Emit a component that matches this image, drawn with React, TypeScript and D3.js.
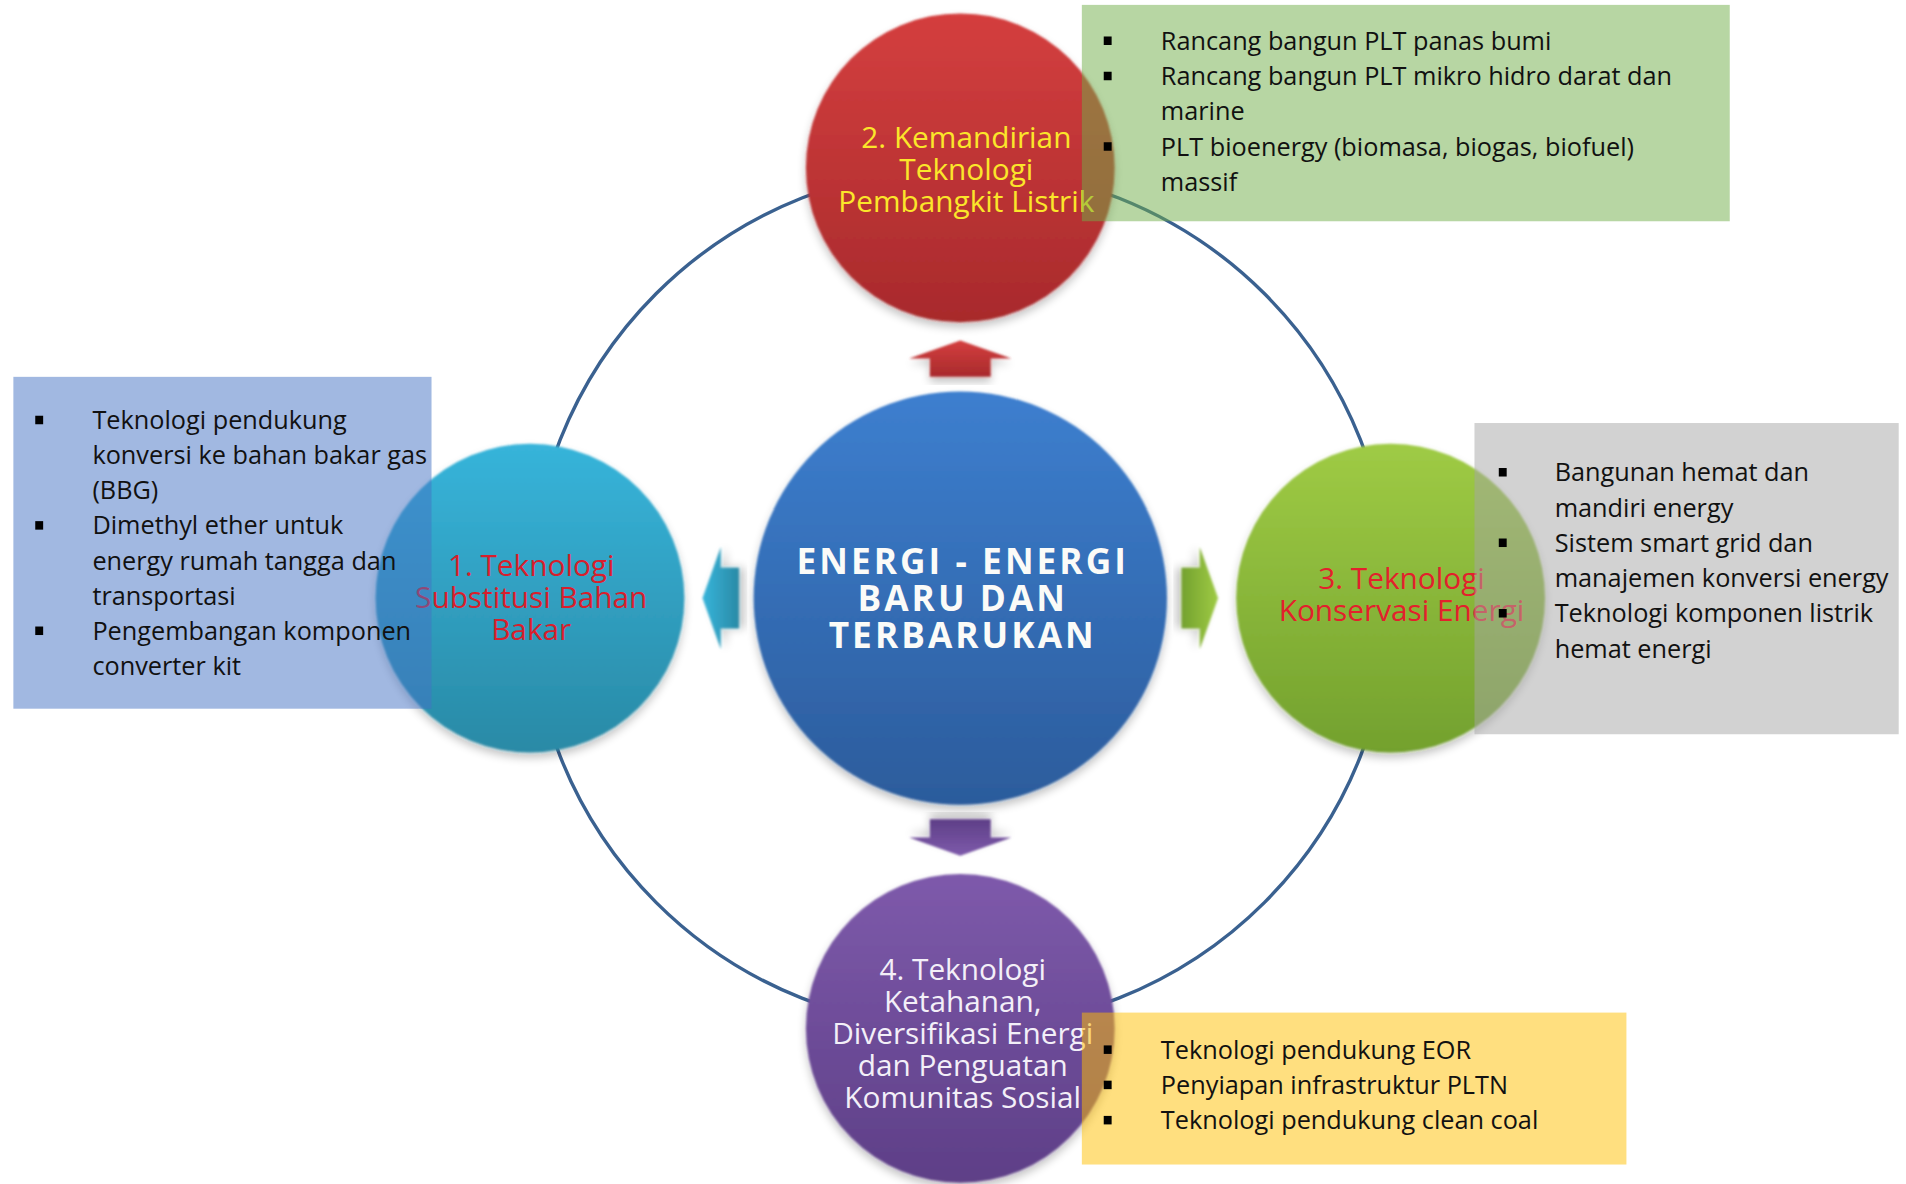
import React from "react";
import * as d3 from "d3";

// ---------- data ----------
const centerTitle = ["ENERGI - ENERGI", "BARU DAN", "TERBARUKAN"];

const nodeNames = ["pembangkit", "konservasi", "ketahanan", "substitusi"];
const nodeLabels = [
  ["2. Kemandirian", "Teknologi", "Pembangkit Listrik"],
  ["3. Teknologi", "Konservasi Energi"],
  ["4. Teknologi", "Ketahanan,", "Diversifikasi Energi", "dan Penguatan", "Komunitas Sosial"],
  ["1. Teknologi", "Substitusi Bahan", "Bakar"],
];
const nodeTop = ["#d43f3f", "#9fcb45", "#7e5aab", "#37b4da"];
const nodeBottom = ["#a82a2c", "#73a12e", "#5e3f87", "#2a8aa6"];
const labelColors = ["#fbe62a", "#e3202c", "#f3eff8", "#d81e2c"];

// bullet lists: each item = wrapped lines
const greenItems = [
  ["Rancang bangun PLT panas bumi"],
  ["Rancang bangun PLT mikro hidro darat dan", "marine"],
  ["PLT bioenergy (biomasa, biogas, biofuel)", "massif"],
];
const grayItems = [
  ["Bangunan hemat dan", "mandiri energy"],
  ["Sistem smart grid dan", "manajemen konversi energy"],
  ["Teknologi komponen listrik", "hemat energi"],
];
const yellowItems = [
  ["Teknologi pendukung EOR"],
  ["Penyiapan infrastruktur PLTN"],
  ["Teknologi pendukung clean coal"],
];
const blueItems = [
  ["Teknologi pendukung", "konversi ke bahan bakar gas", "(BBG)"],
  ["Dimethyl ether untuk", "energy rumah tangga dan", "transportasi"],
  ["Pengembangan komponen", "converter kit"],
];

// ---------- layout ----------
const VW = 1568;
const VH = 974;
const CX = 790;
const CY = 492;
const RING_R = 354;
const NODE_R = 127;
const CENTER_R = 170;

const angle = d3.scaleOrdinal<string, number>().domain(nodeNames).range([0, Math.PI / 2, Math.PI, (3 * Math.PI) / 2]);

const FONT_LABEL = "'Open Sans', sans-serif";
const FONT_BOX = "'Open Sans', sans-serif";

type Box = {
  items: string[][];
  x: number; y: number; w: number; h: number;
  color: string; bulletX: number; textX: number; firstBaseline: number; step: number;
};

const boxes: Box[] = [
  { items: greenItems, x: 890, y: 4, w: 533, h: 178, color: "#70AD47", bulletX: 911, textX: 955, firstBaseline: 41, step: 29 },
  { items: grayItems, x: 1213, y: 348, w: 349, h: 256, color: "#A5A5A5", bulletX: 1236, textX: 1279, firstBaseline: 396, step: 29 },
  { items: yellowItems, x: 890, y: 833, w: 448, h: 125, color: "#FFC000", bulletX: 911, textX: 955, firstBaseline: 871, step: 29 },
  { items: blueItems, x: 11, y: 310, w: 344, h: 273, color: "#4472C4", bulletX: 32, textX: 76, firstBaseline: 353, step: 28.9 },
];

// per-node label tweaks: [dx, dy of first line]
const labelShift: [number, number][] = [
  [5, 2],
  [9, -2],
  [2, 5],
  [1, 0],
];

function arrowPath(): string {
  // pointing up (towards -y), in local coordinates relative to centre
  const tip = 212, base = 197, end = 182, hw = 42, sw = 25;
  const pts: [number, number][] = [
    [0, -tip], [hw, -base], [sw, -base], [sw, -end], [-sw, -end], [-sw, -base], [-hw, -base],
  ];
  return (d3.line()(pts) || "") + "Z";
}

function BoxView({ b }: { b: Box }) {
  const yScale = d3.scaleLinear().domain([0, 1]).range([b.firstBaseline, b.firstBaseline + b.step]);
  let lineIdx = 0;
  const rows: JSX.Element[] = [];
  b.items.forEach((item, i) => {
    item.forEach((line, j) => {
      const y = yScale(lineIdx);
      if (j === 0) {
        rows.push(<rect key={`b${i}`} x={b.bulletX - 3} y={y - 11} width={6.5} height={7} fill="#000" />);
      }
      rows.push(
        <text key={`t${i}-${j}`} x={b.textX} y={y} fontFamily={FONT_BOX} fontSize={20.8} fill="#111">
          {line}
        </text>
      );
      lineIdx++;
    });
  });
  return (
    <g>
      <rect x={b.x} y={b.y} width={b.w} height={b.h} fill={b.color} fillOpacity={0.5} />
      {rows}
    </g>
  );
}

export default function App() {
  const arrow = arrowPath();
  const nodes = nodeNames.map((n, i) => {
    const [dx, dy] = d3.pointRadial(angle(n), RING_R);
    return { n, i, x: CX + dx, y: CY + dy };
  });
  return (
    <svg
      width={1906}
      height={1184}
      viewBox={`0 0 ${VW} ${VH}`}
      style={{ position: "absolute", left: 0, top: 0, background: "#fff" }}
    >
      <defs>
        {nodeNames.map((n, i) => (
          <linearGradient key={n} id={`g-${n}`} x1="0" y1="0" x2="0" y2="1">
            <stop offset="0" stopColor={nodeTop[i]} />
            <stop offset="1" stopColor={nodeBottom[i]} />
          </linearGradient>
        ))}
        <linearGradient id="g-center" x1="0" y1="0" x2="0" y2="1">
          <stop offset="0" stopColor="#3d7fcf" />
          <stop offset="1" stopColor="#2c5c9c" />
        </linearGradient>
        <filter id="soft" x="-20%" y="-20%" width="140%" height="140%">
          <feGaussianBlur in="SourceAlpha" stdDeviation="4" />
          <feOffset dy="4" result="sh" />
          <feComponentTransfer in="sh" result="sh2">
            <feFuncA type="linear" slope="0.25" />
          </feComponentTransfer>
          <feGaussianBlur in="SourceGraphic" stdDeviation="1" result="src" />
          <feMerge>
            <feMergeNode in="sh2" />
            <feMergeNode in="src" />
          </feMerge>
        </filter>
      </defs>

      {/* ring */}
      <circle cx={CX} cy={CY} r={RING_R} fill="none" stroke="#3a6190" strokeWidth={2.8} />

      {/* arrows */}
      {nodes.map((d) => (
        <path
          key={`a-${d.n}`}
          d={arrow}
          transform={`translate(${CX},${CY}) rotate(${(angle(d.n) * 180) / Math.PI})`}
          fill={`url(#g-${d.n})`}
          filter="url(#soft)"
        />
      ))}

      {/* centre */}
      <circle cx={CX} cy={CY} r={CENTER_R} fill="url(#g-center)" filter="url(#soft)" />
      {centerTitle.map((t, i) => (
        <text
          key={t}
          x={CX + 2}
          y={472 + i * 30.5}
          textAnchor="middle"
          fontFamily={FONT_LABEL}
          fontWeight={700}
          fontSize={29}
          letterSpacing={2.5}
          fill="#fbfbf8"
        >
          {t}
        </text>
      ))}

      {/* nodes */}
      {nodes.map((d) => {
        const lines = nodeLabels[d.i];
        const lh = 26.2;
        const [sx, sy] = labelShift[d.i];
        const first = d.y + 8 - ((lines.length - 1) * lh) / 2 + sy;
        return (
          <g key={d.n}>
            <circle cx={d.x} cy={d.y} r={NODE_R} fill={`url(#g-${d.n})`} filter="url(#soft)" />
            {lines.map((t, j) => (
              <text
                key={j}
                x={d.x + sx}
                y={first + j * lh}
                textAnchor="middle"
                fontFamily={FONT_LABEL}
                fontSize={24.5}
                fill={labelColors[d.i]}
              >
                {t}
              </text>
            ))}
          </g>
        );
      })}

      {/* text boxes */}
      {boxes.map((b, i) => (
        <BoxView key={i} b={b} />
      ))}
    </svg>
  );
}
